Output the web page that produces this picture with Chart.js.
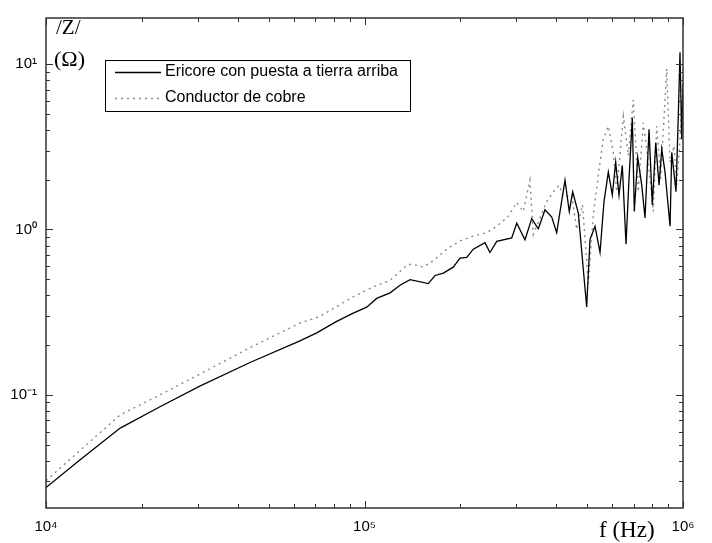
<!DOCTYPE html>
<html>
<head>
<meta charset="utf-8">
<script src="https://cdn.jsdelivr.net/npm/chart.js@4"></script>
<style>
html, body { margin: 0; padding: 0; background: #fff; }
canvas { display: block; }
</style>
</head>
<body>
<canvas id="zChart" width="712" height="543"></canvas>
<script>
// |Z| (ohm) vs f (Hz)
var fEricore = [10000, 12800, 17100, 22800, 30400, 43700, 62700, 70800, 81800, 92200, 101600, 109200, 120300, 129300, 139000, 158600, 166500, 176800, 190000, 199400, 209400, 219600, 238900, 247700, 260100, 289900, 300600, 319100, 335000, 351400, 368700, 387100, 401300, 426100, 439500, 450500, 469100, 498400, 510600, 529400, 548900, 564900, 582800, 599800, 614700, 629600, 644800, 662300, 676900, 693200, 703300, 720800, 742000, 759900, 782200, 801200, 821100, 840900, 857500, 878200, 910600, 921800, 950600, 966500, 978600, 990600, 1000000];
var zEricore = [0.0275, 0.0405, 0.063, 0.0848, 0.113, 0.157, 0.212, 0.237, 0.278, 0.312, 0.339, 0.383, 0.414, 0.46, 0.497, 0.471, 0.527, 0.545, 0.592, 0.672, 0.678, 0.76, 0.833, 0.726, 0.848, 0.89, 1.091, 0.866, 1.163, 1.01, 1.316, 1.189, 0.956, 1.985, 1.285, 1.69, 1.257, 0.34, 0.872, 1.046, 0.727, 1.474, 2.224, 1.615, 2.55, 1.615, 2.44, 0.814, 2.03, 4.73, 1.285, 2.73, 1.853, 1.174, 4.03, 1.409, 3.355, 1.853, 3.065, 2.224, 1.046, 2.925, 1.69, 4.836, 11.79, 3.514, 7.63];

var fCobre = [10000, 12800, 17100, 22800, 30400, 43700, 62700, 72500, 81800, 92200, 106600, 120300, 135700, 140700, 153000, 164400, 181200, 199400, 219600, 241900, 260100, 282900, 300600, 315200, 330800, 338800, 355600, 373300, 391600, 408100, 421000, 447300, 463800, 483600, 504300, 522900, 548900, 562100, 582800, 604200, 619200, 649600, 673500, 698200, 724000, 750600, 778000, 806600, 826900, 851100, 888800, 910600, 937000, 955500, 978600, 1000000];
var zCobre = [0.0303, 0.0462, 0.0757, 0.100, 0.1334, 0.193, 0.272, 0.298, 0.342, 0.392, 0.450, 0.492, 0.605, 0.619, 0.592, 0.648, 0.760, 0.852, 0.912, 0.956, 1.046, 1.2, 1.458, 1.285, 1.985, 0.934, 1.174, 1.474, 1.69, 1.853, 1.578, 1.615, 1.0, 1.409, 0.471, 1.228, 2.55, 3.514, 4.217, 2.925, 1.69, 4.836, 2.795, 6.08, 1.69, 4.414, 2.55, 1.285, 4.217, 2.03, 9.38, 2.55, 3.206, 1.853, 3.514, 7.63];

var etiquetas = ['Ericore con puesta a tierra arriba', 'Conductor de cobre'];

// etiquetas de los ejes (solo las decadas llevan texto)
var xTicks = [1e4, 1e5, 1e6];
var xTickLabels = ['10\u2074', '10\u2075', '10\u2076'];
var yTicks = [0.1, 1, 10];
var yTickLabels = ['10\u207B\u00B9', '10\u2070', '10\u00B9'];

var xMin = 1e4, xMax = 1e6;
var yMin = 0.0207, yMax = 19;

function puntos(xs, ys) {
  return xs.map(function (x, i) { return { x: x, y: ys[i] }; });
}

function esDecada(v) {
  var l = Math.log10(v);
  return Math.abs(l - Math.round(l)) < 1e-6;
}

function etiqueta(v, ticks, labels) {
  for (var i = 0; i < ticks.length; i++) {
    if (Math.abs(v - ticks[i]) / ticks[i] < 1e-6) return labels[i];
  }
  return '';
}

// marcas menores 1..9 x 10^n
function marcasLog(scale) {
  var t = [];
  var e0 = Math.floor(Math.log10(scale.min)), e1 = Math.ceil(Math.log10(scale.max));
  for (var e = e0; e <= e1; e++) {
    for (var s = 1; s <= 9; s++) {
      var v = s * Math.pow(10, e);
      if (v >= scale.min * 0.9999 && v <= scale.max * 1.0001) t.push({ value: v });
    }
  }
  scale.ticks = t;
}

var marco = {
  id: 'marco',
  afterDatasetsDraw: function (chart) {
    var ctx = chart.ctx, a = chart.chartArea;
    var sx = chart.scales.x, sy = chart.scales.y;
    ctx.save();
    ctx.strokeStyle = '#333';
    ctx.lineWidth = 1;
    ctx.beginPath();
    sx.ticks.forEach(function (t) {
      var p = Math.round(sx.getPixelForValue(t.value)) + 0.5;
      var len = esDecada(t.value) ? 7 : 4;
      ctx.moveTo(p, a.bottom); ctx.lineTo(p, a.bottom - len);
      ctx.moveTo(p, a.top); ctx.lineTo(p, a.top + len);
    });
    sy.ticks.forEach(function (t) {
      var p = Math.round(sy.getPixelForValue(t.value)) + 0.5;
      var len = esDecada(t.value) ? 7 : 4;
      ctx.moveTo(a.left, p); ctx.lineTo(a.left + len, p);
      ctx.moveTo(a.right, p); ctx.lineTo(a.right - len, p);
    });
    ctx.stroke();

    ctx.lineWidth = 1.5;
    ctx.strokeRect(a.left, a.top, a.right - a.left, a.bottom - a.top);

    // leyenda
    var lx = 105, ly = 60, lw = 305, lh = 51;
    ctx.fillStyle = '#fff';
    ctx.fillRect(lx, ly, lw, lh);
    ctx.lineWidth = 1;
    ctx.strokeStyle = '#000';
    ctx.strokeRect(lx + 0.5, ly + 0.5, lw, lh);
    var ds = chart.data.datasets;
    [72, 98].forEach(function (yy, i) {
      ctx.beginPath();
      ctx.strokeStyle = ds[i].borderColor;
      ctx.lineWidth = ds[i].borderWidth;
      ctx.setLineDash(ds[i].borderDash || []);
      ctx.moveTo(115, yy + 0.5); ctx.lineTo(161, yy + 0.5);
      ctx.stroke();
      ctx.setLineDash([]);
      ctx.fillStyle = '#000';
      ctx.font = '16px "Liberation Sans", Arial, sans-serif';
      ctx.textBaseline = 'middle';
      ctx.textAlign = 'left';
      ctx.fillText(etiquetas[i], 165, yy);
    });

    // titulos de los ejes
    ctx.fillStyle = '#000';
    ctx.textBaseline = 'alphabetic';
    ctx.font = '21px "Liberation Serif", "Times New Roman", serif';
    ctx.fillText('/Z/', 56, 34);
    ctx.font = '22px "Liberation Serif", "Times New Roman", serif';
    ctx.fillText('(\u03A9)', 54, 66);
    ctx.font = '23px "Liberation Serif", "Times New Roman", serif';
    ctx.fillText('f (Hz)', 599, 537);
    ctx.restore();
  }
};

var ctx = document.getElementById('zChart').getContext('2d');
var grafico = new Chart(ctx, {
  type: 'line',
  data: {
    datasets: [{
      label: etiquetas[0],
      data: puntos(fEricore, zEricore),
      borderColor: '#000',
      borderWidth: 1.3,
      pointRadius: 0,
      tension: 0
    }, {
      label: etiquetas[1],
      data: puntos(fCobre, zCobre),
      borderColor: '#888',
      borderWidth: 1.4,
      borderDash: [2, 4],
      pointRadius: 0,
      tension: 0
    }]
  },
  options: {
    responsive: false,
    animation: false,
    layout: { padding: { top: 10, right: 29, left: 0, bottom: 0 } },
    plugins: {
      legend: { display: false },
      tooltip: { enabled: false }
    },
    scales: {
      x: {
        type: 'logarithmic',
        min: xMin,
        max: xMax,
        afterBuildTicks: marcasLog,
        afterFit: function (s) { s.height = 35; },
        grid: { display: false, drawTicks: false },
        border: { display: false },
        ticks: {
          autoSkip: false,
          maxRotation: 0,
          padding: 10,
          color: '#000',
          font: { family: '"Liberation Sans", Arial, sans-serif', size: 15 },
          callback: function (v) { return etiqueta(v, xTicks, xTickLabels); }
        }
      },
      y: {
        type: 'logarithmic',
        min: yMin,
        max: yMax,
        afterBuildTicks: marcasLog,
        afterFit: function (s) { s.width = 46; },
        grid: { display: false, drawTicks: false },
        border: { display: false },
        ticks: {
          autoSkip: false,
          padding: 9,
          color: '#000',
          font: { family: '"Liberation Sans", Arial, sans-serif', size: 15 },
          callback: function (v) { return etiqueta(v, yTicks, yTickLabels); }
        }
      }
    }
  },
  plugins: [marco]
});
</script>
</body>
</html>
